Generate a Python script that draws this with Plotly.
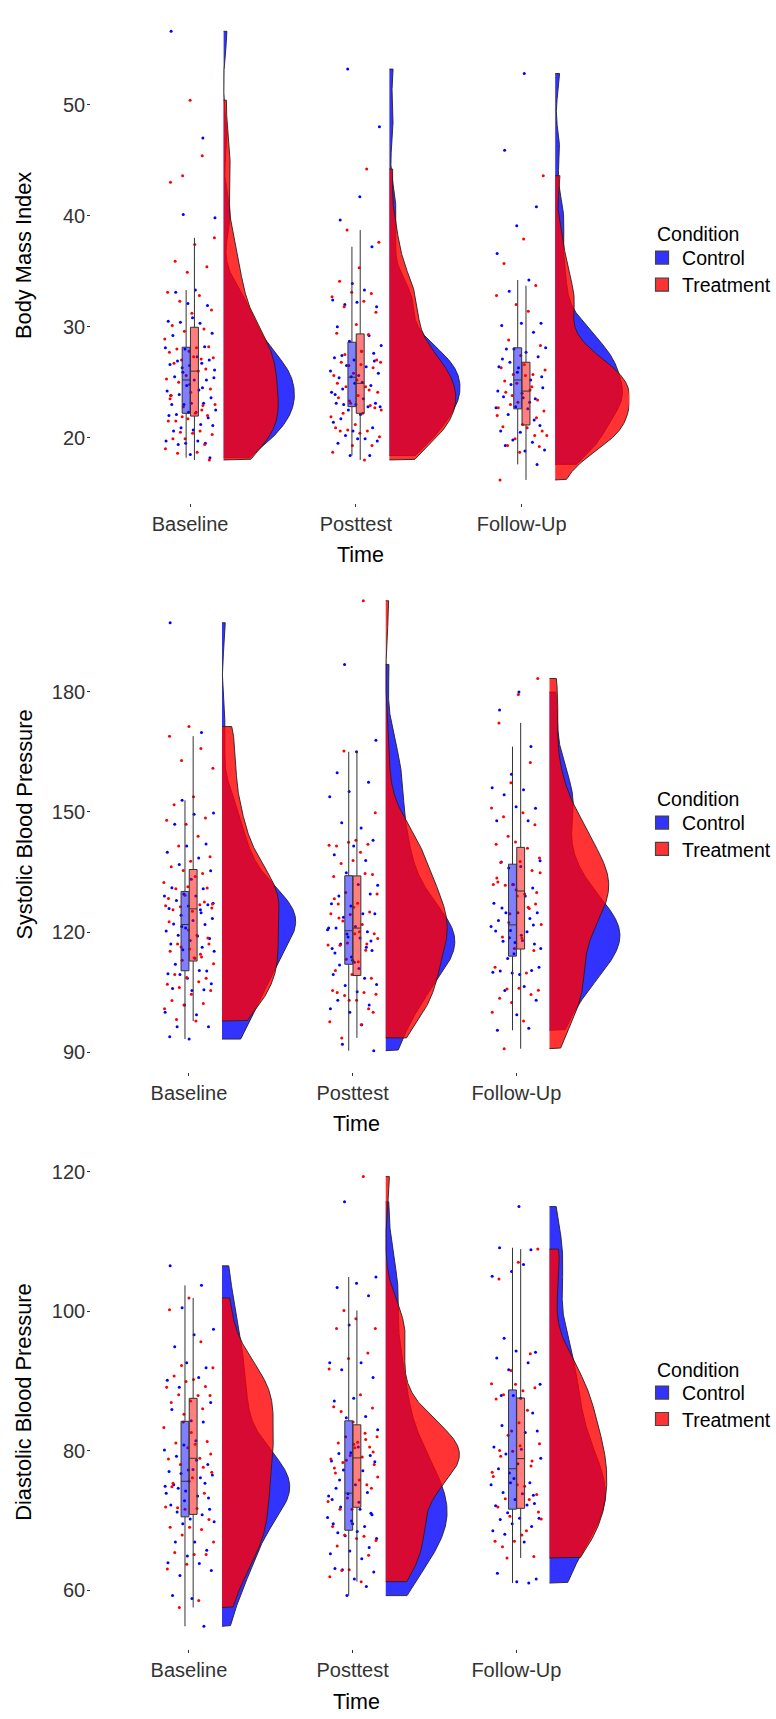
import numpy as np
import plotly.graph_objects as go

TIMES = ["Baseline", "Posttest", "Follow-Up"]
CONDITIONS = ["Control", "Treatment"]

# ---- Body Mass Index -------------------------------------------------------
bmi_ctrl_base = [56.6, 47.0, 40.1, 39.8, 33.3, 33.1, 31.9, 32.1, 30.5, 30.3, 30.4, 29.4, 30.8, 29.2,
                 28.2, 28.0, 28.1, 27.3, 26.9, 27.0, 26.5, 26.6, 26.7, 26.3, 25.4, 25.2, 25.5, 25.2,
                 24.7, 24.2, 24.3, 23.9, 23.6, 23.1, 23.0, 23.1, 23.0, 22.5, 22.3, 22.1, 21.8, 22.3,
                 22.0, 21.2, 20.9, 21.1, 20.7, 20.6, 19.5, 19.5, 19.7, 19.7, 19.4, 18.2, 18.5, 23.8,
                 24.5, 25.9, 26.1]
bmi_ctrl_post = [53.2, 48.0, 41.7, 39.6, 37.2, 33.9, 32.4, 33.3, 32.0, 31.8, 32.2, 30.0, 29.2, 28.7,
                 28.3, 27.8, 27.4, 27.6, 27.0, 27.2, 26.4, 26.5, 25.8, 25.6, 25.4, 24.7, 25.5, 24.1,
                 23.5, 23.0, 23.1, 23.0, 23.1, 22.8, 22.5, 22.8, 22.1, 21.7, 20.9, 20.6, 21.4, 19.9,
                 20.2, 19.7, 19.9, 19.5, 18.4, 18.4, 26.0, 25.0, 24.4, 26.9, 24.9, 23.9]
bmi_ctrl_fu = [52.8, 45.9, 40.8, 39.1, 36.6, 34.2, 33.2, 30.3, 30.3, 30.1, 29.5, 28.0, 28.1, 27.7,
               28.0, 27.3, 26.3, 26.4, 25.2, 24.8, 24.5, 23.6, 23.7, 23.5, 22.8, 22.7, 22.6, 22.1,
               21.1, 20.5, 20.6, 19.6, 19.8, 18.9, 18.8, 19.3, 17.6, 25.9, 24.2, 23.2, 26.8, 25.5,
               24.0, 27.1, 21.6]
bmi_trt_base = [50.4, 43.0, 45.4, 43.6, 38.0, 37.4, 35.9, 35.4, 34.9, 33.1, 32.8, 32.3, 31.5, 31.2,
                30.1, 29.8, 29.6, 28.9, 28.1, 28.0, 28.2, 27.8, 27.7, 27.1, 27.0, 27.2, 27.3, 26.7,
                26.2, 25.6, 25.3, 26.0, 25.0, 24.4, 24.1, 23.8, 22.9, 22.8, 23.0, 22.2, 21.5, 22.0,
                21.7, 21.5, 20.6, 20.5, 20.3, 20.4, 19.9, 19.4, 19.9, 19.0, 18.7, 18.6, 18.0, 24.8,
                23.5, 22.5, 21.9]
bmi_trt_post = [44.2, 38.7, 37.6, 35.3, 34.1, 33.0, 33.1, 32.7, 32.3, 31.8, 31.3, 30.2, 29.4, 29.3,
                26.5, 26.8, 26.6, 26.8, 26.3, 25.8, 25.6, 24.6, 24.6, 24.1, 23.8, 23.6, 22.9, 23.1,
                21.9, 22.2, 22.2, 22.7, 21.2, 20.9, 20.6, 20.7, 20.1, 20.4, 20.6, 19.3, 19.3, 18.7,
                18.0, 27.5, 27.0, 25.2, 24.9, 24.3, 23.3, 22.5, 27.8]
bmi_trt_fu = [43.6, 37.9, 35.7, 33.7, 32.0, 32.8, 31.4, 28.8, 28.3, 27.4, 26.3, 25.7, 25.7, 26.1,
              25.6, 24.1, 23.4, 23.2, 22.7, 24.3, 23.0, 20.6, 21.2, 21.0, 20.2, 19.9, 20.2, 20.9,
              19.3, 19.2, 18.7, 16.2, 24.6, 23.8, 22.4, 26.6, 25.1, 21.8, 24.9, 22.0]

# ---- Systolic Blood Pressure -----------------------------------------------
sbp_ctrl_base = [197.2, 169.8, 152.9, 149.7, 149.4, 146.9, 142.0, 141.5, 139.9, 138.5, 136.9, 135.3,
                 133.2, 131.1, 130.8, 129.5, 129.0, 129.0, 127.9, 126.8, 126.5, 125.9, 125.6, 124.2,
                 123.4, 122.9, 122.0, 121.9, 121.0, 120.3, 119.0, 119.2, 118.4, 117.9, 117.0, 116.2,
                 115.6, 115.2, 113.5, 112.0, 110.3, 108.5, 109.6, 110.4, 109.4, 107.1, 105.4, 105.9,
                 105.6, 101.8, 100.0, 99.4, 96.4, 96.4, 93.3, 93.9, 124.8, 121.4, 127.2]
sbp_ctrl_post = [186.8, 167.9, 165.0, 159.8, 157.4, 155.1, 153.8, 146.0, 147.3, 142.9, 141.5, 139.3,
                 137.9, 134.8, 131.7, 131.9, 129.0, 129.5, 126.5, 127.1, 124.6, 123.7, 124.6, 121.4,
                 121.0, 120.1, 118.8, 121.0, 118.5, 117.0, 115.4, 113.0, 109.4, 108.5, 106.7, 106.9,
                 105.1, 103.0, 101.8, 100.0, 100.9, 96.9, 92.0, 90.4, 112.5, 114.8, 116.2, 119.5,
                 120.6, 110.9, 111.8, 117.8, 113.8, 115.9]
sbp_ctrl_fu = [179.9, 175.4, 166.3, 159.4, 156.0, 155.5, 154.3, 150.9, 151.3, 147.8, 147.8, 136.0,
               137.8, 136.4, 137.5, 131.0, 131.9, 127.2, 129.0, 124.8, 124.8, 124.8, 122.9, 123.4,
               120.4, 121.4, 117.9, 117.7, 117.0, 117.4, 120.3, 120.1, 113.4, 111.2, 109.4, 110.3,
               110.4, 109.8, 110.0, 106.4, 105.4, 103.0, 99.4, 95.5, 96.0, 118.6, 115.9, 119.2,
               126.0, 121.8, 114.6]
sbp_trt_base = [171.3, 168.9, 165.8, 162.8, 160.9, 153.8, 151.8, 148.5, 146.9, 147.9, 143.9, 141.5,
                138.8, 137.7, 136.3, 134.6, 135.4, 132.4, 133.9, 130.8, 131.0, 131.3, 128.4, 126.8,
                126.3, 126.0, 125.2, 125.6, 127.5, 129.2, 126.6, 119.2, 117.0, 117.0, 115.8, 115.2,
                113.8, 113.0, 112.1, 113.6, 109.4, 108.5, 108.7, 107.0, 107.6, 106.2, 105.4, 104.5,
                102.9, 102.2, 101.8, 100.9, 97.8, 98.2, 118.5, 120.5, 122.6, 114.5, 116.3, 127.0]
sbp_trt_post = [202.7, 165.2, 149.8, 142.9, 141.5, 141.9, 142.4, 141.7, 139.9, 137.1, 134.4, 137.9,
                133.9, 134.6, 129.9, 129.5, 127.2, 127.0, 125.0, 124.4, 124.6, 121.9, 122.8, 119.6,
                119.6, 110.4, 117.0, 117.3, 116.8, 120.1, 116.7, 108.5, 109.4, 105.4, 104.9, 104.2,
                104.5, 103.0, 104.9, 100.9, 103.0, 97.6, 96.9, 93.6, 100.0, 126.2, 128.3, 115.5,
                113.2, 118.4, 112.6, 123.5]
sbp_trt_fu = [183.3, 179.3, 172.2, 162.3, 157.3, 151.0, 149.8, 148.8, 146.8, 142.5, 141.9, 140.9,
              143.9, 138.5, 137.6, 137.4, 135.4, 131.9, 131.9, 129.5, 131.7, 129.9, 129.0, 132.5,
              125.9, 124.6, 121.9, 118.5, 118.8, 115.4, 115.9, 111.2, 109.8, 105.8, 105.5, 106.0,
              103.5, 104.4, 102.4, 100.0, 97.8, 90.9, 127.0, 130.6, 133.5, 126.2, 122.4, 134.8]

# ---- Diastolic Blood Pressure ----------------------------------------------
dbp_ctrl_base = [106.5, 103.7, 100.5, 97.4, 96.6, 94.9, 91.9, 92.6, 90.1, 90.5, 89.1, 86.9, 84.3,
                 85.9, 84.1, 80.8, 80.1, 81.4, 79.2, 78.0, 77.2, 77.0, 76.1, 76.7, 76.5, 77.3, 75.1,
                 75.3, 74.2, 73.9, 73.5, 74.6, 71.6, 70.2, 72.2, 70.8, 69.5, 69.8, 66.9, 66.9, 65.7,
                 64.9, 63.9, 63.8, 62.1, 62.8, 58.8, 59.2, 54.8, 72.8, 74.9, 78.6, 71.2, 73.2, 75.6]
dbp_ctrl_post = [115.7, 104.9, 104.0, 103.4, 102.2, 98.0, 92.6, 92.6, 91.6, 90.5, 87.5, 87.1, 84.9,
                 84.7, 83.0, 80.5, 79.6, 79.3, 79.7, 78.5, 77.1, 77.2, 78.4, 75.1, 74.6, 74.0, 73.8,
                 73.5, 71.6, 71.9, 70.8, 69.5, 69.5, 69.1, 67.8, 67.4, 68.4, 68.2, 66.1, 65.6, 65.2,
                 64.5, 62.9, 62.6, 61.6, 63.1, 60.5, 59.2, 70.4, 72.6, 75.8, 71.0, 69.9, 73.0]
dbp_ctrl_fu = [115.0, 109.1, 108.8, 105.7, 105.0, 106.7, 96.1, 94.1, 94.3, 93.3, 92.6, 91.6, 89.5,
               87.5, 87.9, 85.4, 87.9, 80.5, 82.6, 79.5, 82.8, 78.1, 77.4, 75.4, 75.4, 75.1, 73.8,
               74.0, 72.4, 73.0, 72.1, 72.2, 71.1, 70.3, 70.3, 70.1, 69.1, 69.5, 68.5, 66.9, 68.0,
               61.6, 61.2, 62.4, 61.0, 76.8, 78.9, 80.2, 83.6, 73.6, 76.0]
dbp_trt_base = [101.9, 100.2, 95.6, 92.2, 91.9, 90.2, 90.7, 89.2, 89.9, 89.1, 87.9, 88.0, 87.9,
                87.1, 86.9, 86.0, 84.1, 83.3, 80.9, 81.1, 81.3, 80.4, 78.8, 78.9, 78.0, 76.9, 76.1,
                75.3, 73.9, 71.6, 71.9, 71.7, 71.8, 70.1, 69.0, 69.0, 68.7, 67.9, 66.9, 65.1, 65.4,
                65.1, 63.7, 63.0, 58.5, 57.5, 79.5, 82.6, 74.8, 77.6, 85.2]
dbp_trt_post = [119.3, 100.1, 97.5, 98.9, 97.5, 94.0, 93.2, 91.7, 88.0, 85.6, 86.1, 84.1, 86.3,
                82.5, 82.0, 82.0, 81.2, 81.1, 80.5, 79.3, 78.8, 79.1, 78.3, 78.0, 80.4, 76.8, 75.1,
                73.2, 72.7, 75.8, 71.6, 74.6, 71.6, 69.1, 67.7, 67.9, 67.1, 67.4, 66.3, 65.0, 62.9,
                61.9, 61.2, 62.8, 79.8, 80.9, 77.5, 81.6, 78.6, 76.2]
dbp_trt_fu = [108.9, 107.0, 104.6, 93.9, 91.5, 89.6, 88.6, 88.0, 89.0, 89.5, 87.4, 85.8, 82.2, 81.0,
              80.7, 79.2, 78.5, 79.9, 76.3, 74.9, 73.1, 73.7, 75.1, 71.9, 73.0, 70.6, 70.2, 67.9,
              66.2, 64.8, 67.0, 67.0, 68.5, 64.6, 71.2, 84.0, 80.0, 77.8, 82.8, 76.9]

bmi_ticks = [20, 30, 40, 50]
sbp_ticks = [90, 120, 150, 180]
dbp_ticks = [60, 80, 100, 120]

PANELS = [
    dict(title="Body Mass Index", ticks=bmi_ticks,
         groups=[[bmi_ctrl_base, bmi_ctrl_post, bmi_ctrl_fu],
                 [bmi_trt_base, bmi_trt_post, bmi_trt_fu]]),
    dict(title="Systolic Blood Pressure", ticks=sbp_ticks,
         groups=[[sbp_ctrl_base, sbp_ctrl_post, sbp_ctrl_fu],
                 [sbp_trt_base, sbp_trt_post, sbp_trt_fu]]),
    dict(title="Diastolic Blood Pressure", ticks=dbp_ticks,
         groups=[[dbp_ctrl_base, dbp_ctrl_post, dbp_ctrl_fu],
                 [dbp_trt_base, dbp_trt_post, dbp_trt_fu]]),
]

# ---- layout constants --------------------------------------------------------
W, H = 776, 1719
FONT = "Liberation Sans, Arial, Helvetica, sans-serif"
# plotting areas in pixels: left, right, top, bottom
AREAS = [(92.7, 640.0, 8.0, 502.7), (92.7, 633.3, 578.3, 1071.7), (92.7, 633.3, 1155.0, 1649.3)]
Y_RANGES = [(14.15, 58.7), (85.16, 208.3), (51.5, 122.4)]
X_RANGE = (-0.597, 2.649)
LEGEND_TITLE_Y = [233.9, 799.3, 1370.4]
LEGEND_ROWS_Y = [(257.9, 285.0), (822.9, 849.3), (1392.9, 1419.3)]
LEGEND_X = 653
TITLE_X = 666

VIOLIN_FILL = ["rgba(0,0,255,0.8)", "rgba(255,0,0,0.8)"]
BOX_FILL = ["rgba(0,0,255,0.5)", "rgba(255,0,0,0.5)"]
POINT_COLOR = ["#0000FF", "#FF0000"]
KEY_COLOR = ["#3333FF", "#FF3333"]
BOX_SHIFT = [-0.024, 0.026]
BOX_WIDTH = 0.048
VIOLIN_NUDGE = 0.202
VIOLIN_HALF = 0.45
JITTER_HALF = 0.155


def bw_nrd0(v):
    sd = np.std(v, ddof=1)
    q75, q25 = np.percentile(v, [75, 25])
    lo = min(sd, (q75 - q25) / 1.34)
    if lo <= 0:
        lo = sd if sd > 0 else 1.0
    return 0.9 * lo * len(v) ** -0.2


def density(v, n=512):
    v = np.asarray(v, dtype=float)
    bw = bw_nrd0(v)
    grid = np.linspace(v.min(), v.max(), n)
    z = (grid[:, None] - v[None, :]) / bw
    d = np.exp(-0.5 * z * z).sum(axis=1) / (len(v) * bw * np.sqrt(2 * np.pi))
    return grid, d


def box_stats(v):
    v = np.asarray(v, dtype=float)
    q1, med, q3 = np.percentile(v, [25, 50, 75])
    iqr = q3 - q1
    lower = v[v >= q1 - 1.5 * iqr].min()
    upper = v[v <= q3 + 1.5 * iqr].max()
    return q1, med, q3, lower, upper


def jitter(n, phase):
    return ((np.arange(n) * 0.6180339887 + phase) % 1.0 - 0.5) * 2 * JITTER_HALF


fig = go.Figure()
annotations = []
layout = {}

for p, panel in enumerate(PANELS):
    k = "" if p == 0 else str(p + 1)
    xa, ya = "x" + k, "y" + k
    left, right, top, bottom = AREAS[p]

    # half violins, scaled so every density in the panel has the same area
    dens = [[density(g) for g in cond] for cond in panel["groups"]]
    dmax = max(d.max() for cond in dens for (_, d) in cond)
    for t in range(3):
        for c in range(2):
            grid, d = dens[c][t]
            base = t + VIOLIN_NUDGE
            xs = np.concatenate([[base], base + VIOLIN_HALF * d / dmax, [base]])
            ys = np.concatenate([[grid[0]], grid, [grid[-1]]])
            fig.add_trace(go.Scatter(
                x=xs, y=ys, xaxis=xa, yaxis=ya, mode="lines", fill="toself",
                fillcolor=VIOLIN_FILL[c], line=dict(color="#222222", width=0.9),
                hoverinfo="skip", showlegend=False))

    # jittered raw observations
    for c in range(2):
        xs, ys = [], []
        for t in range(3):
            vals = panel["groups"][c][t]
            xs.extend(t + jitter(len(vals), 0.13 + 0.37 * c + 0.21 * t))
            ys.extend(vals)
        fig.add_trace(go.Scatter(
            x=xs, y=ys, xaxis=xa, yaxis=ya, mode="markers",
            marker=dict(size=3, color=POINT_COLOR[c], line=dict(width=0)),
            hoverinfo="skip", showlegend=False))

    # box plots (Tukey whiskers, outliers hidden)
    for c in range(2):
        stats = [box_stats(g) for g in panel["groups"][c]]
        fig.add_trace(go.Box(
            x=[t + BOX_SHIFT[c] for t in range(3)],
            q1=[s[0] for s in stats], median=[s[1] for s in stats], q3=[s[2] for s in stats],
            lowerfence=[s[3] for s in stats], upperfence=[s[4] for s in stats],
            width=BOX_WIDTH, fillcolor=BOX_FILL[c], line=dict(color="#333333", width=1),
            whiskerwidth=0, boxpoints=False, xaxis=xa, yaxis=ya, zorder=2,
            hoverinfo="skip", showlegend=False))

    # legend keys, one legend per row
    for c in range(2):
        lname = "legend" + ("" if (2 * p + c) == 0 else str(2 * p + c + 1))
        fig.add_trace(go.Scatter(
            x=[None], y=[None], xaxis=xa, yaxis=ya, mode="markers", name=CONDITIONS[c],
            marker=dict(symbol="square", size=13, color=KEY_COLOR[c],
                        line=dict(color="#444444", width=1.2)),
            legend=lname, showlegend=True))
        layout[lname] = dict(
            x=LEGEND_X / W, xanchor="left", y=1 - LEGEND_ROWS_Y[p][c] / H, yanchor="middle",
            font=dict(family=FONT, size=19.5, color="black"), bgcolor="rgba(0,0,0,0)",
            borderwidth=0, itemwidth=30)

    axis_common = dict(showline=True, linecolor="#333333", linewidth=1, ticks="outside",
                       ticklen=3, tickwidth=1, tickcolor="#333333", showgrid=False,
                       zeroline=False, tickfont=dict(family=FONT, size=20, color="#333333"))
    layout["xaxis" + k] = dict(axis_common, domain=[left / W, right / W], anchor=ya,
                               range=list(X_RANGE), tickvals=[0, 1, 2], ticktext=TIMES)
    layout["yaxis" + k] = dict(axis_common, domain=[1 - bottom / H, 1 - top / H], anchor=xa,
                               range=list(Y_RANGES[p]), tickvals=panel["ticks"],
                               ticklabelstandoff=-2)

    annotations.append(dict(text=panel["title"], xref="paper", yref="paper", x=24 / W,
                            y=1 - (top + bottom) / 2 / H, textangle=-90, showarrow=False,
                            xanchor="center", yanchor="middle",
                            font=dict(family=FONT, size=21.8, color="black")))
    annotations.append(dict(text="Time", xref="paper", yref="paper", x=(left + right) / 2 / W,
                            y=1 - (bottom + 52.5) / H, showarrow=False, xanchor="center",
                            yanchor="middle", font=dict(family=FONT, size=21.5, color="black")))
    annotations.append(dict(text="Condition", xref="paper", yref="paper", x=TITLE_X / W,
                            y=1 - LEGEND_TITLE_Y[p] / H, showarrow=False, xanchor="left",
                            yanchor="middle", font=dict(family=FONT, size=19.5, color="black")))

fig.update_layout(
    width=W, height=H, margin=dict(l=0, r=0, t=0, b=0),
    paper_bgcolor="white", plot_bgcolor="white", hovermode=False,
    annotations=annotations, **layout)

fig.write_html("out.html")
